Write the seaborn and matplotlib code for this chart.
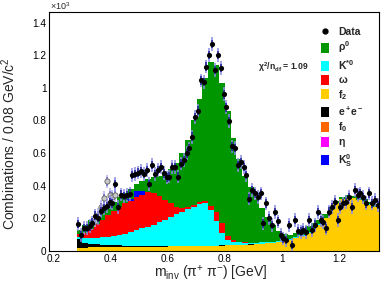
import numpy as np
import pandas as pd
import seaborn as sns
import matplotlib
matplotlib.use("Agg")
import matplotlib.pyplot as plt
from matplotlib.patches import Patch
from matplotlib.lines import Line2D
from matplotlib.ticker import MultipleLocator, FuncFormatter

# histogram binning (GeV)
bin_edges = np.round(np.arange(0.28, 1.3401, 0.02), 3)
bin_centers = np.round(bin_edges[:-1] + 0.01, 3)

# stacked templates, counts per bin (bottom -> top)
f2 = [15, 18, 20, 20, 21, 22, 22, 23, 23, 24, 24, 25, 25, 25, 26, 26, 27, 27, 28, 28,
      29, 29, 30, 30, 31, 32, 33, 34, 35, 36, 38, 40, 42, 45, 48, 52, 58, 66, 78, 92,
      110, 135, 160, 200, 250, 290, 315, 325, 322, 312, 298, 283, 268]
ee = [60, 30, 24, 20, 17, 14, 12, 10, 9, 8, 7, 6, 5, 4, 4, 3, 3, 3, 2, 2,
      2, 2, 2, 1, 1, 1, 1, 1, 1, 1, 1, 1, 1, 1, 1, 1, 1, 1, 0, 0,
      0, 0, 0, 0, 0, 0, 0, 0, 0, 0, 0, 0, 0]
kstar = [10, 28, 34, 40, 45, 51, 56, 63, 73, 83, 96, 106, 118, 131, 145, 161, 180, 195, 210, 225,
         239, 254, 258, 219, 148, 77, 31, 20, 15, 12, 9, 8, 8, 7, 7, 6, 5, 5, 4, 4,
         3, 3, 2, 2, 2, 2, 1, 1, 1, 1, 1, 1, 1]
omega = [15, 34, 57, 85, 107, 133, 155, 174, 185, 190, 203, 208, 212, 195, 160, 120, 80, 45, 25, 15,
         12, 12, 15, 25, 60, 60, 25, 8, 3, 2, 1, 1, 0, 0, 0, 0, 0, 0, 0, 0,
         0, 0, 0, 0, 0, 0, 0, 0, 0, 0, 0, 0, 0]
k0s = [0, 0, 0, 0, 0, 0, 0, 0, 0, 10, 35, 20, 0, 0, 0, 0, 0, 0, 0, 0,
       0, 0, 0, 0, 0, 0, 0, 0, 0, 0, 0, 0, 0, 0, 0, 0, 0, 0, 0, 0,
       0, 0, 0, 0, 0, 0, 0, 0, 0, 0, 0, 0, 0]
rho = [30, 50, 55, 60, 65, 60, 55, 60, 65, 65, 45, 60, 80, 95, 125, 160, 210, 270, 335, 410,
       518, 633, 755, 885, 900, 860, 770, 627, 506, 409, 341, 270, 209, 157, 104, 61, 36, 23, 28, 34,
       37, 32, 28, 23, 18, 13, 14, 14, 15, 17, 16, 16, 16]

# data points
data_x = np.round(np.arange(0.285, 1.336, 0.01), 3)
data_y = [165, 95, 140, 140, 150, 172, 215, 200, 245, 260, 275, 300, 290, 410, 270, 345, 335, 340, 350, 465,
          470, 480, 490, 470, 495, 410, 525, 470, 495, 515, 475, 450, 455, 515, 515, 455, 535, 555, 598, 628,
          700, 820, 860, 1045, 1035, 1130, 1200, 1270, 1110, 1200, 1120, 960, 880, 795, 640, 630, 525, 545, 515, 465,
          320, 372, 352, 330, 352, 168, 290, 200, 158, 239, 180, 96, 76, 66, 158, 35, 188, 120, 117, 127,
          117, 188, 127, 160, 239, 188, 178, 137, 240, 270, 300, 188, 270, 290, 300, 331, 270, 372, 342, 352,
          330, 291, 352, 291, 311, 280]
open_x = [0.345, 0.355, 0.365, 0.375, 0.385, 0.395, 0.405, 0.415]
open_y = [185, 220, 268, 322, 425, 340, 332, 342]

stat_err = 26
tot_err = 42

components = ["rho", "k0s", "omega", "kstar", "ee", "f2"]
colors = {"rho": "#009600", "k0s": "#0000ff", "omega": "#ff0000", "kstar": "#00ffff",
          "ee": "#000000", "f2": "#ffcc00"}

rows = []
for name, vals in zip(components, [rho, k0s, omega, kstar, ee, f2]):
    for c, v in zip(bin_centers, vals):
        rows.append({"mass": c, "count": v, "comp": name})
df = pd.DataFrame(rows)

sns.set_style("white")
plt.rcParams["font.family"] = ["Liberation Sans", "DejaVu Sans"]
plt.rcParams["mathtext.fontset"] = "custom"
plt.rcParams["mathtext.rm"] = "Liberation Sans"
plt.rcParams["mathtext.it"] = "Liberation Sans"
plt.rcParams["mathtext.bf"] = "Liberation Sans:bold"
plt.rcParams["mathtext.default"] = "regular"

fig = plt.figure(figsize=(3.82, 2.83), dpi=100)
ax = fig.add_axes([0.129, 0.114, 0.863, 0.843])

sns.histplot(data=df, x="mass", weights="count", hue="comp", hue_order=components,
             palette=colors, multiple="stack", bins=bin_edges.tolist(), element="step",
             fill=True, alpha=1, linewidth=0, legend=False, ax=ax)

# error bars: total (light) and stat (dark)
ax.errorbar(open_x, open_y, yerr=tot_err, fmt="none", ecolor="#b0b0f0", elinewidth=1.1, zorder=5)
ax.errorbar(open_x, open_y, yerr=stat_err, fmt="none", ecolor="#7070c8", elinewidth=1.1, zorder=5)
sns.scatterplot(x=open_x, y=open_y, s=14, color="#c8c8c8", edgecolor="#606060",
                linewidth=0.6, zorder=6, ax=ax)
ax.errorbar(data_x, data_y, yerr=tot_err, fmt="none", ecolor="#8c8ce6", elinewidth=1.1, zorder=7)
ax.errorbar(data_x, data_y, yerr=stat_err, fmt="none", ecolor="#1c1c96", elinewidth=1.1, zorder=7)
sns.scatterplot(x=data_x, y=data_y, s=14, color="black", edgecolor="black",
                linewidth=0, zorder=8, ax=ax)

ax.set_xlim(0.1835, 1.34)
ax.set_ylim(0, 1464)
ax.xaxis.set_major_locator(MultipleLocator(0.2))
ax.xaxis.set_minor_locator(MultipleLocator(0.05))
ax.yaxis.set_major_locator(MultipleLocator(200))
ax.yaxis.set_minor_locator(MultipleLocator(50))
ax.xaxis.set_major_formatter(FuncFormatter(lambda v, p: f"{v:g}"))
ax.yaxis.set_major_formatter(FuncFormatter(lambda v, p: f"{v / 1000:g}"))
ax.tick_params(axis="both", which="both", direction="in", labelsize=7.2, colors="black",
               top=False, right=False, width=0.8)
ax.tick_params(axis="y", which="major", length=8, pad=2)
ax.tick_params(axis="y", which="minor", length=4)
ax.tick_params(axis="x", which="major", length=6, pad=2)
ax.tick_params(axis="x", which="minor", length=3)
for s in ax.spines.values():
    s.set_linewidth(0.8)
    s.set_color("black")

ax.set_xlabel(r"m$_{inv}$ (π$^{+}$ π$^{-}$) [GeV]", fontsize=10)
ax.set_ylabel(r"Combinations / 0.08 GeV/c$^2$", fontsize=10)
ax.xaxis.set_label_coords(0.49, -0.055)
ax.yaxis.set_label_coords(-0.095, 0.45)

fig.text(0.131, 0.979, r"×10$^3$", fontsize=6.5, ha="left", va="center")
ax.text(0.633, 0.77, r"χ$^2$/n$_{df}$ = 1.09", transform=ax.transAxes,
        fontsize=6.2, fontweight="bold", ha="left", va="center")

handles = [Line2D([], [], marker="o", color="black", linestyle="none", markersize=3.5)]
labels = ["Data"]
leg_items = [("#009600", r"$ρ^0$"), ("#00ffff", r"K$^{*0}$"), ("#ff0000", r"$ω$"),
             ("#ffcc00", r"f$_2$"), ("#000000", r"e$^+$e$^-$"), ("#ff6600", r"f$_0$"),
             ("#ff00ff", r"$η$"), ("#0000ff", r"K$^0_S$")]
for col, lab in leg_items:
    handles.append(Patch(facecolor=col, edgecolor="none"))
    labels.append(lab)
ax.legend(handles, labels, loc="upper left", bbox_to_anchor=(0.825, 0.941), frameon=False,
          prop={"size": 7.5, "weight": "bold"}, handlelength=0.75, handleheight=1.1,
          handletextpad=0.9, labelspacing=0.26, borderpad=0, borderaxespad=0)

fig.savefig("out.png", dpi=100, facecolor="white")
